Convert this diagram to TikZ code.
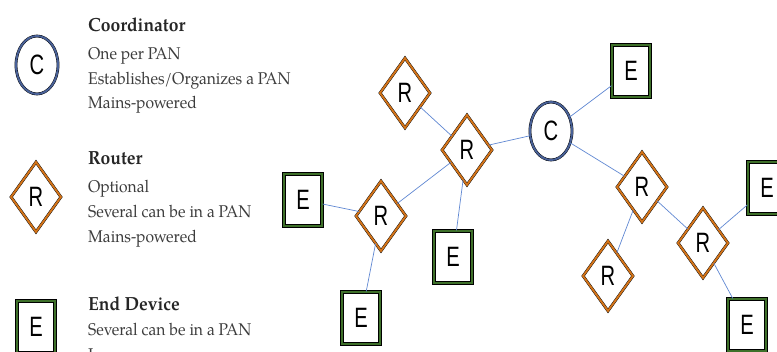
\documentclass[tikz,border=0pt]{standalone}
\usepackage{fontspec}
\setmainfont{TeX Gyre Pagella}[FakeStretch=0.92]
\newfontfamily\labfont{Liberation Sans}[FakeStretch=0.72]
\usetikzlibrary{shapes.geometric}
\definecolor{corBlue}{RGB}{72,96,150}
\definecolor{rtOrange}{RGB}{210,115,25}
\definecolor{edGreen}{RGB}{62,112,42}
\definecolor{lnBlue}{RGB}{95,135,210}
\definecolor{txtGray}{RGB}{60,60,60}
\tikzset{
  coordnode/.style={ellipse, draw=black, line width=0.4pt, double=corBlue, double distance=2pt,
    minimum width=42pt, minimum height=58pt, inner sep=0pt, fill=white, font=\labfont\fontsize{28}{28}\selectfont},
  routernode/.style={diamond, draw=black, line width=0.4pt, double=rtOrange, double distance=2pt,
    minimum width=50pt, minimum height=70pt, inner sep=0pt, fill=white, font=\labfont\fontsize{28}{28}\selectfont},
  endnode/.style={rectangle, draw=black, line width=1.1pt, double=edGreen, double distance=1.3pt,
    minimum width=38pt, minimum height=52pt, inner sep=0pt, fill=white, font=\labfont\fontsize{28}{28}\selectfont},
  link/.style={draw=lnBlue, line width=0.7pt},
  head/.style={anchor=base west, inner sep=0pt, font=\fontsize{19}{19}\selectfont\bfseries, text=black!85},
  body/.style={anchor=base west, inner sep=0pt, font=\fontsize{17}{17}\selectfont, text=txtGray},
}
\begin{document}
\begin{tikzpicture}[x=1pt,y=-1pt]
\useasboundingbox (0,0) rectangle (777,351);
\clip (0,0) rectangle (777,351);
% legend
\node[coordnode] (lc) at (37,65) {C};
\node[head] (lct) at (88,31) {Coordinator};
\node[body] (lc1) at (88,59) {One per PAN};
\node[body] (lc2) at (88,84) {Establishes/Organizes a PAN};
\node[body] (lc3) at (88,108) {Mains-powered};
\node[routernode] (lr) at (36,197) {R};
\node[head] (lrt) at (88,164) {Router};
\node[body] (lr1) at (88,192) {Optional};
\node[body] (lr2) at (88,217) {Several can be in a PAN};
\node[body] (lr3) at (88,242) {Mains-powered};
\node[endnode] (le) at (36,327) {E};
\node[head] (let) at (88,310) {End Device};
\node[body] (le1) at (88,335) {Several can be in a PAN};
\node[body] (le2) at (88,360) {L};
% network nodes
\node[routernode] (r1) at (405,93) {R};
\node[routernode] (r2) at (467,150) {R};
\node[coordnode] (c) at (551,131) {C};
\node[endnode] (etop) at (631,71) {E};
\node[routernode] (r3) at (642,187) {R};
\node[routernode] (r4) at (703,243) {R};
\node[routernode] (r5) at (608,276) {R};
\node[endnode] (eright) at (767,188) {E};
\node[endnode] (ebr) at (747,325) {E};
\node[endnode] (eleft) at (303,200) {E};
\node[routernode] (r6) at (381,216) {R};
\node[endnode] (emid) at (453,257) {E};
\node[endnode] (ebot) at (361,318) {E};
% links
\draw[link] (r1) -- (r2);
\draw[link] (r2) -- (c);
\draw[link] (r2) -- (r6);
\draw[link] (r2) -- (emid);
\draw[link] (r6) -- (eleft);
\draw[link] (r6) -- (ebot);
\draw[link] (c) -- (etop);
\draw[link] (c) -- (r3);
\draw[link] (r3) -- (r5);
\draw[link] (r3) -- (r4);
\draw[link] (r4) -- (eright);
\draw[link] (r4) -- (ebr);
\end{tikzpicture}
\end{document}
